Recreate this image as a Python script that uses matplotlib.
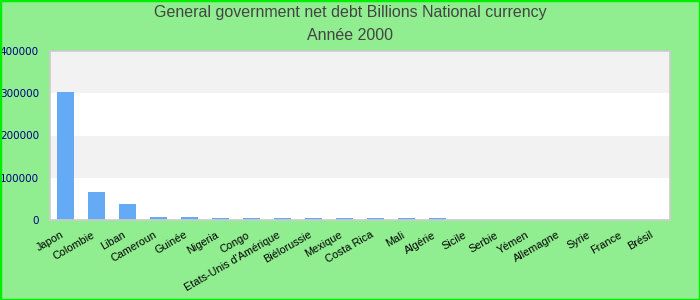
import numpy as np
import matplotlib
matplotlib.use("Agg")
import matplotlib.pyplot as plt
from matplotlib.patches import Rectangle

# data
countries = ["Japon", "Colombie", "Liban", "Cameroun", "Guinée", "Nigeria", "Congo",
             "Etats-Unis d'Amérique", "Biélorussie", "Mexique", "Costa Rica", "Mali",
             "Algérie", "Sicile", "Serbie", "Yémen", "Allemagne", "Syrie", "France", "Brésil"]
debt = [303000, 67000, 38500, 8000, 7500, 5500, 5000,
        3800, 3800, 3700, 3700, 3700,
        3600, 0, 0, 0, 0, 0, 0, 0]
yticks = [0, 100000, 200000, 300000, 400000]

bg = "#90ee90"
fig = plt.figure(figsize=(7, 3), dpi=100, facecolor=bg)
ax = fig.add_axes([50 / 700, 80 / 300, 620 / 700, 169 / 300])
ax.set_facecolor("white")

# alternating horizontal bands
for i in range(len(yticks) - 1):
    if i % 2 == 1:
        ax.axhspan(yticks[i], yticks[i + 1], color="#f2f2f2", zorder=0, lw=0)

x = np.arange(len(countries))
ax.bar(x, debt, width=0.54, color="#64aaf5", zorder=2)

ax.set_xlim(-0.5, len(countries) - 0.5)
ax.set_ylim(0, 400000)
ax.set_yticks(yticks)
ax.set_yticklabels([str(v) for v in yticks], fontsize=7.5, color="#000080",
                   family="DejaVu Sans")
ax.tick_params(axis="y", length=0, pad=8)
ax.set_xticks(x)
ax.set_xticklabels(countries, rotation=30, ha="right", fontsize=7.8,
                   family="Liberation Sans")
ax.tick_params(axis="x", length=0, pad=7)

for s in ax.spines.values():
    s.set_color("#cccccc")
    s.set_linewidth(1.2)

fig.text(0.5, 1 - 12.5 / 300, "General government net debt Billions National currency",
         ha="center", va="center", fontsize=11.5, color="#444444", family="Liberation Sans")
fig.text(0.5, 1 - 36 / 300, "Année 2000",
         ha="center", va="center", fontsize=11.5, color="#444444", family="Liberation Sans")

# bright green frame round the figure
fig.patches.append(Rectangle((0, 0), 1, 1, transform=fig.transFigure, fill=False,
                             edgecolor="#00ee00", linewidth=2.5))

fig.savefig("out.png", dpi=100, facecolor=bg)
